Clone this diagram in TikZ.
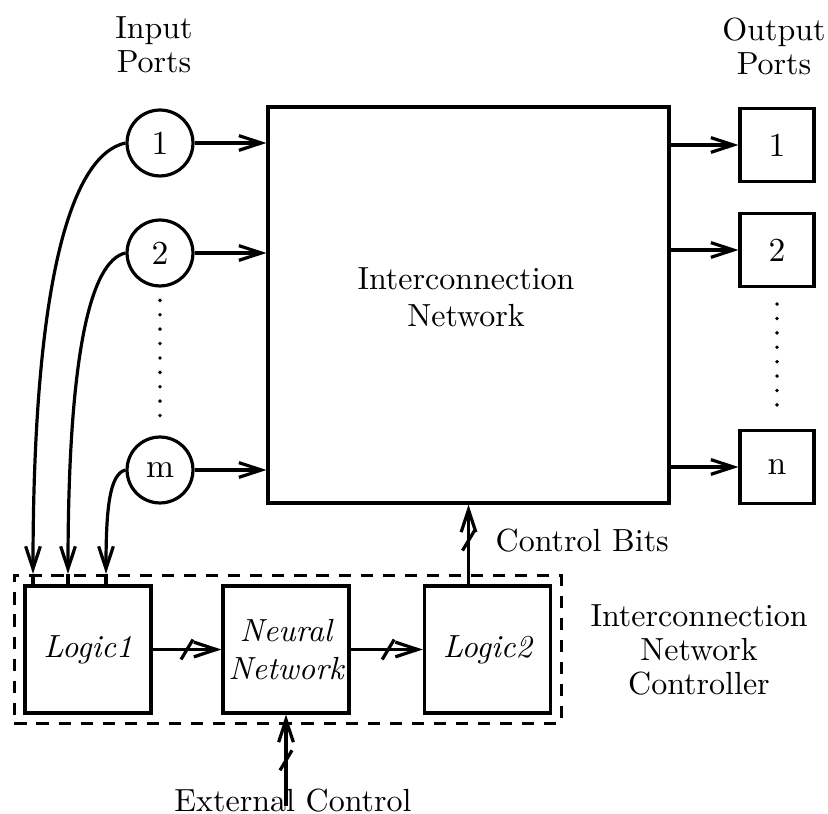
\documentclass[tikz,border=0pt]{standalone}
\usetikzlibrary{arrows.meta, calc, fit}
\tikzset{
	port/.style={circle, draw, line width=1pt, minimum size=20.6pt, inner sep=0pt, font=\fontsize{10.5}{12}\selectfont},
	outport/.style={rectangle, draw, line width=1pt, minimum width=23.1pt, minimum height=22.8pt, inner sep=0pt, font=\fontsize{10.5}{12}\selectfont},
	netbox/.style={rectangle, draw, line width=1pt, minimum width=125.3pt, minimum height=123.8pt},
	logicbox/.style={rectangle, draw, line width=1pt, minimum width=39.4pt, minimum height=39.7pt, inner sep=0pt, align=center, font=\itshape\fontsize{10}{12}\selectfont},
	ctrlbox/.style={rectangle, draw, line width=1pt, dash pattern=on 3.8pt off 3.1pt, inner sep=2.8pt},
	lbl/.style={align=center, inner sep=0pt, font=\fontsize{10}{10.6}\selectfont},
	sig/.style={-{Straight Barb[length=7pt,width=4.6pt]}, line width=1pt},
	plain/.style={line width=1pt},
	dots/.style={line width=1.2pt, line cap=round, dash pattern=on 0pt off 4.5pt},
	busmark/.pic={\draw[line width=1pt] (-6,10) -- (6,-10);},
}
\begin{document}
\begin{tikzpicture}[x=0.3125pt, y=-0.3125pt]
	\useasboundingbox (0,0) rectangle (828,814);
	% ports and network
	\node[lbl] (inlbl) at (154,45) {Input\\Ports};
	\node[lbl] (outlbl) at (774,46) {Output\\Ports};
	\node[port] (in1) at (160,143) {1};
	\node[port] (in2) at (160,253) {2};
	\node[port] (inm) at (160,470) {m};
	\node[netbox] (net) at (468.5,305) {};
	\node[lbl, font=\fontsize{10}{11.6}\selectfont] (netlbl) at (466,297) {Interconnection\\Network};
	\node[outport] (out1) at (777,145) {1};
	\node[outport] (out2) at (777,250) {2};
	\node[outport] (outn) at (777,467) {n};
	\foreach \x in {in1,in2,inm}{\draw[sig] (\x.east) -- (\x.east -| net.west);}
	\foreach \x in {out1,out2,outn}{\draw[sig] (\x.west -| net.east) -- (\x.west);}
	\draw[dots, shorten <=4pt, shorten >=4pt] (in2.south) -- (inm.north);
	\draw[dots, shorten <=5pt, shorten >=5pt] (out2.south) -- (outn.north);
	% controller
	\node[logicbox] (log1) at (88,649.5) {Logic1};
	\node[logicbox] (nn) at (286,649.5) {Neural\\Network};
	\node[logicbox] (log2) at (487.5,649.5) {Logic2};
	\node[ctrlbox, fit=(log1)(log2)] (ctrl) {};
	\node[lbl] (ctrllbl) at (699,650) {Interconnection\\Network\\Controller};
	\coordinate (d1) at (ctrl.north -| 33,0);
	\coordinate (d2) at (ctrl.north -| 68,0);
	\coordinate (dm) at (ctrl.north -| 106,0);
	\draw[sig] (in1.west) .. controls +(-55,12) and +(0,-290) .. (d1);
	\draw[sig] (in2.west) .. controls +(-35,8) and +(0,-220) .. (d2);
	\draw[sig] (inm.west) .. controls +(-16,4) and +(0,-65) .. (dm);
	\foreach \x in {d1,d2,dm}{\draw[plain] (\x) -- (\x |- log1.north);}
	\draw[sig] (log1.east) -- (nn.west);
	\draw[sig] (nn.east) -- (log2.west);
	\pic at ($(log1.east)!0.5!(nn.west)$) {busmark};
	\pic at ($(nn.east)!0.52!(log2.west)$) {busmark};
	% control lines
	\draw[sig] (log2.north -| net.south) -- (net.south);
	\pic at ($(log2.north -| net.south)!0.55!(net.south)$) {busmark};
	\node[lbl, anchor=west] (bitslbl) at (495,541) {Control Bits};
	\node[lbl] (extlbl) at (293,801) {External Control};
	\coordinate (extin) at (nn.south |- 0,806);
	\draw[sig] (extin) -- (nn.south);
	\pic at ($(extin)!0.5!(nn.south)$) {busmark};
\end{tikzpicture}
\end{document}
